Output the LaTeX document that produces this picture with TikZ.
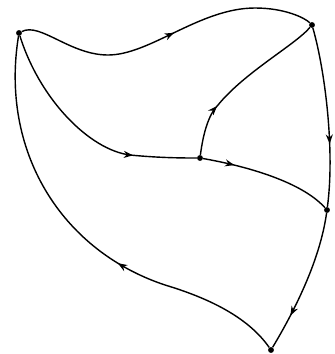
\documentclass[tikz,border=0pt]{standalone}
\usepackage{tikz}
\usetikzlibrary{arrows.meta,decorations.markings}

\begin{document}
\begin{tikzpicture}[x=0.03cm,y=-0.03cm,
          dot/.style={circle,fill=black,inner sep=0pt,minimum size=5pt},
          edge/.style={line width=1.2pt,black},
          midar/.style={postaction={decorate},decoration={markings,
            mark=at position #1 with {\arrow{Stealth[length=8pt,width=6pt]}}}}]
        \useasboundingbox (0,0) rectangle (335,354);
        \node[dot] (a) at (19,33) {};
        \node[dot] (b) at (312,25) {};
        \node[dot] (c) at (200,158) {};
        \node[dot] (d) at (327,210) {};
        \node[dot] (e) at (271,350) {};
        \draw[edge,midar=0.53] (a) .. controls (40,22) and (70,55) .. (108,55)
          .. controls (150,55) and (200,8) .. (255,8)
          .. controls (285,8) and (305,18) .. (b);
        \draw[edge,midar=0.73] (a) .. controls (40,100) and (90,150) .. (130,155)
          .. controls (160,158) and (185,158) .. (c);
        \draw[edge,midar=0.3] (c) .. controls (203,135) and (208,115) .. (218,105)
          .. controls (245,72) and (295,45) .. (b);
        \draw[edge,midar=0.24] (c) .. controls (240,165) and (300,180) .. (d);
        \draw[edge,midar=0.65] (b) .. controls (325,70) and (335,150) .. (d);
        \draw[edge,midar=0.75] (d) .. controls (320,260) and (295,310) .. (e);
        \draw[edge,midar=0.4] (e) .. controls (250,320) and (215,300) .. (165,285)
          .. controls (60,250) and (0,150) .. (a);
      \end{tikzpicture}
\end{document}
